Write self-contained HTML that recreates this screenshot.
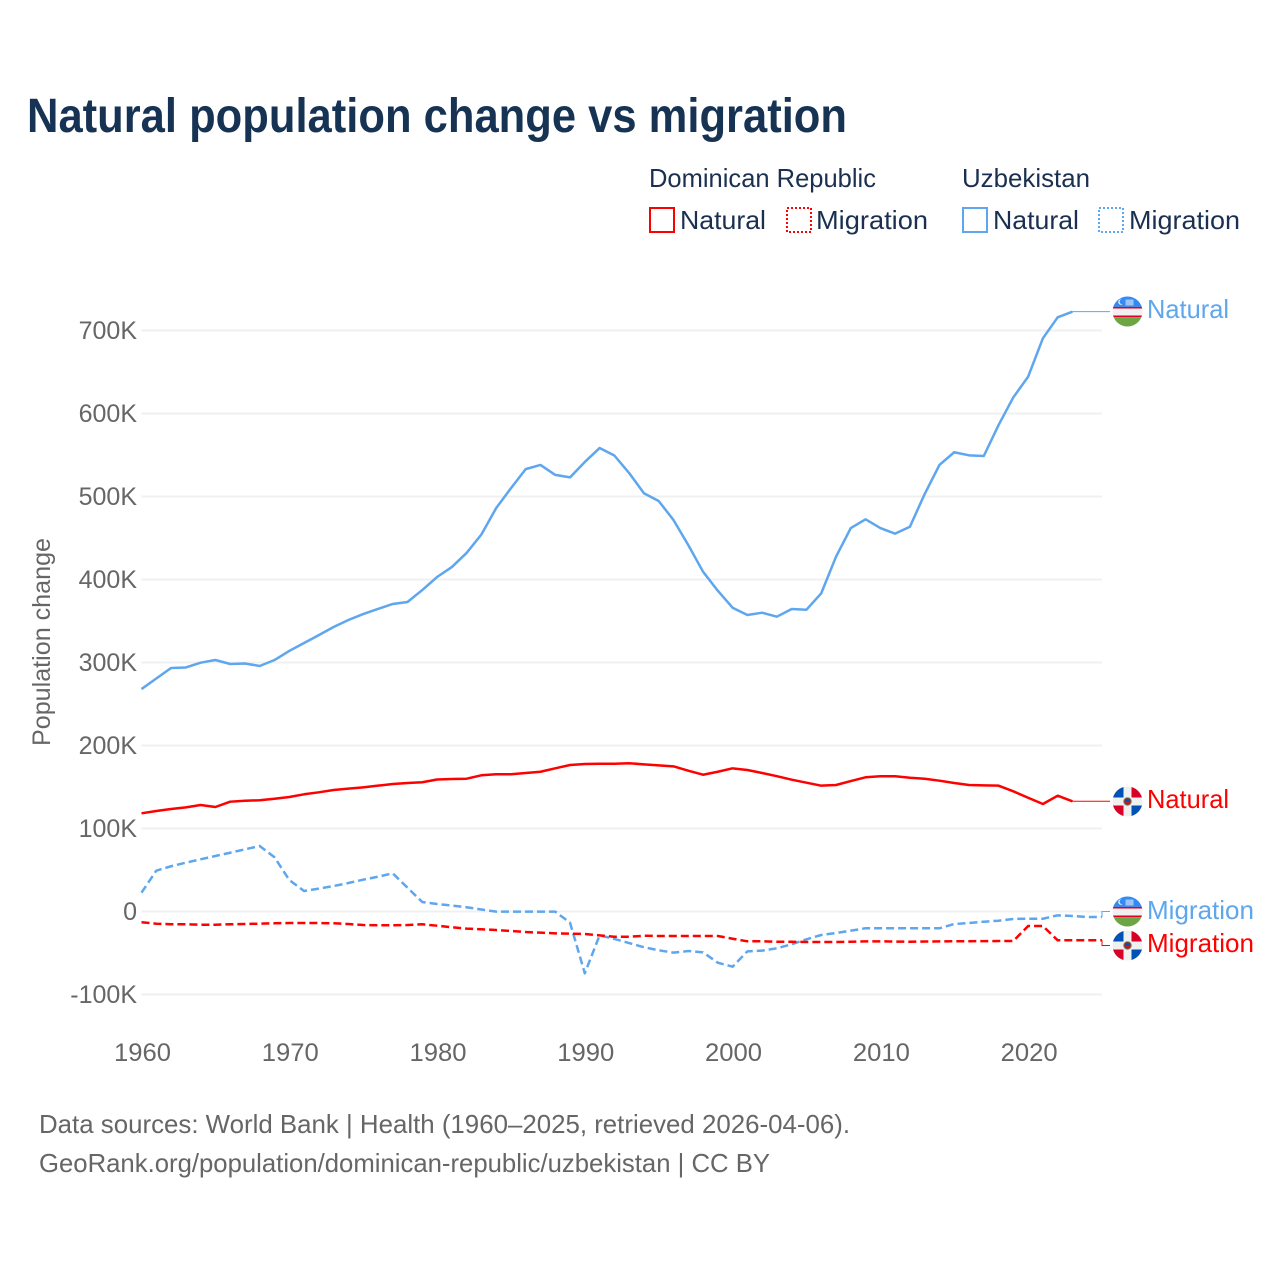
<!DOCTYPE html>
<html lang="en">
<head>
<meta charset="utf-8">
<title>Natural population change vs migration</title>
<style>
html,body{margin:0;padding:0;background:#fff;}
svg{display:block;font-family:"Liberation Sans",sans-serif;}
</style>
</head>
<body>
<svg id="chart" xmlns="http://www.w3.org/2000/svg" width="1280" height="1280" viewBox="0 0 1280 1280">
  <defs>
    <clipPath id="flag-clip"><circle cx="0" cy="0" r="15"></circle></clipPath>
    <g id="flag-uz" clip-path="url(#flag-clip)">
      <rect x="-15" y="-15" width="30" height="11" fill="#338af3"></rect>
      <rect x="-15" y="-4.6" width="30" height="12" fill="#f0f0f0"></rect>
      <rect x="-15" y="-4.6" width="30" height="1.6" fill="#d80027"></rect>
      <rect x="-15" y="4" width="30" height="1.6" fill="#d80027"></rect>
      <rect x="-15" y="5.6" width="30" height="10" fill="#6da544"></rect>
      <circle cx="-6.5" cy="-9.5" r="2.8" fill="#f0f0f0"></circle>
      <circle cx="-5.3" cy="-9.8" r="2.6" fill="#338af3"></circle>
      <rect x="-2" y="-12" width="8" height="6" fill="#9cc4f7"></rect>
    </g>
    <g id="flag-do" clip-path="url(#flag-clip)">
      <rect x="-15" y="-15" width="30" height="30" fill="#f0f0f0"></rect>
      <rect x="-15" y="-15" width="11" height="11" fill="#0052b4"></rect>
      <rect x="4" y="-15" width="11" height="11" fill="#d80027"></rect>
      <rect x="-15" y="4" width="11" height="11" fill="#d80027"></rect>
      <rect x="4" y="4" width="11" height="11" fill="#0052b4"></rect>
      <circle cx="0" cy="0" r="4.2" fill="#5c8a4a"></circle>
      <circle cx="0" cy="0" r="3.2" fill="#c8102e"></circle>
      <rect x="-2.6" y="-2.6" width="5.2" height="2.6" fill="#0052b4"></rect>
    </g>
  </defs>

  <rect x="0" y="0" width="1280" height="1280" fill="#ffffff"></rect>

  <text x="27" y="132" font-size="48" font-weight="700" fill="#163354" textLength="820" lengthAdjust="spacingAndGlyphs">Natural population change vs migration</text>

  <g font-size="26" fill="#1b3050">
    <text x="649" y="187" textLength="227" lengthAdjust="spacingAndGlyphs">Dominican Republic</text>
    <text x="962" y="187" textLength="128" lengthAdjust="spacingAndGlyphs">Uzbekistan</text>

    <g>
      <rect x="650" y="208" width="24" height="24" fill="none" stroke="#ff0000" stroke-width="2"></rect>
      <text x="680" y="229" textLength="86" lengthAdjust="spacingAndGlyphs">Natural</text>
    </g>
    <g>
      <rect x="787" y="208" width="24" height="24" fill="none" stroke="#ff0000" stroke-width="2" stroke-dasharray="2 2"></rect>
      <text x="816" y="229" textLength="112" lengthAdjust="spacingAndGlyphs">Migration</text>
    </g>
    <g>
      <rect x="963" y="208" width="24" height="24" fill="none" stroke="#5ea6ee" stroke-width="2"></rect>
      <text x="993" y="229" textLength="86" lengthAdjust="spacingAndGlyphs">Natural</text>
    </g>
    <g>
      <rect x="1099" y="208" width="24" height="24" fill="none" stroke="#5ea6ee" stroke-width="2" stroke-dasharray="2 2"></rect>
      <text x="1129" y="229" textLength="111" lengthAdjust="spacingAndGlyphs">Migration</text>
    </g>
  </g>

  <text transform="translate(50,746) rotate(-90)" font-size="25" fill="#666666" textLength="208" lengthAdjust="spacingAndGlyphs">Population change</text>

  <g id="grid"></g>
  <g id="y-ticks"></g>
  <g id="x-ticks"></g>
  <g id="series"></g>

  <g font-size="26">
    <use href="#flag-uz" x="1127.5" y="311.5"></use>
    <text x="1147" y="318" fill="#5ea6ee" textLength="82" lengthAdjust="spacingAndGlyphs">Natural</text>
    <use href="#flag-do" x="1127.5" y="801.5"></use>
    <text x="1147" y="808" fill="#ff0000" textLength="82" lengthAdjust="spacingAndGlyphs">Natural</text>
    <use href="#flag-uz" x="1127.5" y="911.5"></use>
    <text x="1147" y="919" fill="#5ea6ee" textLength="107" lengthAdjust="spacingAndGlyphs">Migration</text>
    <use href="#flag-do" x="1127.5" y="945.5"></use>
    <text x="1147" y="952" fill="#ff0000" textLength="107" lengthAdjust="spacingAndGlyphs">Migration</text>
  </g>

  <g font-size="26" fill="#666666">
    <text x="39" y="1133" textLength="811" lengthAdjust="spacingAndGlyphs">Data sources: World Bank | Health (1960–2025, retrieved 2026-04-06).</text>
    <text x="39" y="1172" textLength="731" lengthAdjust="spacingAndGlyphs">GeoRank.org/population/dominican-republic/uzbekistan | CC BY</text>
  </g>
</svg>

<script>
const firstYear = 1960;
const yTickValues = [-100, 0, 100, 200, 300, 400, 500, 600, 700];
const yTickLabels = ["-100K", "0", "100K", "200K", "300K", "400K", "500K", "600K", "700K"];
const xTickYears = [1960, 1970, 1980, 1990, 2000, 2010, 2020];

const uzbekistanNatural = [268,280.7,293.4,294,299.8,303,298.2,298.8,295.8,303,
  313.9,323.5,333,342.8,351.2,358.4,364.5,370.5,372.9,387.3,
  403,415,432,454.2,486,510,533,538,526,523,
  541.6,558.4,549.4,528.3,503.9,494.6,471.7,441.6,409.4,386.5,
  366,357.2,360,355.2,364.5,363.6,383.4,427.5,462,472.5,
  462,455.2,463.6,503,538,553.3,549.6,548.8,586.1,619.5,
  644.3,690.6,715.9,722.7];
const dominicanNatural = [118.3,121.1,123.5,125.5,128.3,125.9,132.3,133.5,134,135.9,
  138,141.2,143.6,146.4,148,149.6,151.6,153.6,154.8,155.7,
  159,159.6,160,164.1,165.3,165.3,166.9,168.4,172.5,176.5,
  177.7,178,178,178.6,177.3,176.1,174.9,169.6,164.8,168.4,
  172.5,170.5,166.9,163,158.8,155.2,151.6,152.4,157.2,161.7,
  162.9,162.9,161.2,160,157.6,154.8,152.4,152,151.6,144.8,
  137.1,129.5,139.5,132.8];
const uzbekistanMigration = [22.7,49.2,54.5,58.8,62.9,66.9,70.8,74.9,78.9,65.3,
  38,24.7,27.5,30.7,34.3,38.3,41.9,46,28.7,11.4,
  9,7.2,5.1,2.4,-0.2,-0.2,-0.2,-0.2,-0.2,-13.5,
  -74.5,-28.7,-33.1,-38,-43.1,-46.7,-49.6,-47.6,-49.2,-61.7,
  -66.5,-48,-47.2,-44.3,-39.5,-33.5,-28.3,-25.9,-23.1,-20.2,
  -20.2,-20.2,-20.2,-20.2,-20.2,-15.1,-13.9,-12.3,-11.1,-9,
  -8.7,-8.7,-4.6,-5.4,-6.6,-6.6];
const dominicanMigration = [-13,-14.7,-15.4,-15.4,-15.9,-15.9,-15.4,-15.1,-14.7,-14.2,
  -13.9,-13.9,-13.9,-14.2,-15.1,-16.3,-16.6,-16.6,-16.3,-15.4,
  -17.1,-19,-20.7,-21.4,-22.3,-23.5,-24.7,-25.5,-26.3,-26.7,
  -27.1,-28.7,-30.4,-30.4,-29.2,-29.5,-29.5,-29.5,-29.5,-29.5,
  -32.8,-35.9,-35.9,-36.4,-36.4,-36.8,-36.8,-36.8,-36.4,-36,
  -36,-36.2,-36.4,-36.2,-36,-35.9,-35.8,-35.7,-35.6,-35.5,
  -17.5,-17.5,-34.7,-34.7,-34.7,-34.7];

const SVG_NS = "http://www.w3.org/2000/svg";
const plotLeft = 141.5, plotRight = 1102, leaderEnd = 1110;
function xScale(year) { return plotLeft + (year - firstYear) * (plotRight - plotLeft) / 65; }
function yScale(thousands) { return 911.5 - thousands * 0.83; }

function make(tag, attrs, parent) {
  const el = document.createElementNS(SVG_NS, tag);
  for (const k in attrs) el.setAttribute(k, attrs[k]);
  parent.appendChild(el);
  return el;
}

const gridGroup = document.getElementById("grid");
const yTickGroup = document.getElementById("y-ticks");
const xTickGroup = document.getElementById("x-ticks");
const seriesGroup = document.getElementById("series");

yTickValues.forEach(function (v, i) {
  const line = make("line", { x1: plotLeft, x2: plotRight, y1: yScale(v), y2: yScale(v), stroke: "#f0f0f0", "stroke-width": 2 }, gridGroup);
  
  
  const label = make("text", { x: 137, y: yScale(v) + 8.5, "text-anchor": "end", "font-size": 25, fill: "#666666" }, yTickGroup);
  label.textContent = yTickLabels[i];
  
  
});

xTickYears.forEach(function (year) {
  const label = make("text", { x: xScale(year) + 1, y: 1061, "text-anchor": "middle", "font-size": 25, fill: "#666666", textLength: 57, lengthAdjust: "spacingAndGlyphs" }, xTickGroup);
  label.textContent = String(year);
  
  
});

function drawSeries(values, color, dash, labelY, name) {
  const pts = values.map(function (v, i) { return xScale(firstYear + i).toFixed(2) + "," + yScale(v).toFixed(2); });
  const path = make("path", { d: "M" + pts.join("L"), fill: "none", stroke: color, "stroke-width": 2.5, "stroke-linejoin": "round" }, seriesGroup);
  if (dash) path.setAttribute("stroke-dasharray", dash);
  
  
  const lastX = xScale(firstYear + values.length - 1);
  const lastY = yScale(values[values.length - 1]);
  const leader = make("path", { d: "M" + lastX + "," + lastY + "L" + plotRight + "," + lastY + "L" + plotRight + "," + labelY + "L" + leaderEnd + "," + labelY, fill: "none", stroke: color, "stroke-width": 1 }, seriesGroup);
  
  
}

drawSeries(uzbekistanMigration, "#5ea6ee", "8 4", 911.5, "uzbekistan-migration");
drawSeries(dominicanMigration, "#ff0000", "8 4", 945.5, "dominican-republic-migration");
drawSeries(uzbekistanNatural, "#5ea6ee", "", yScale(uzbekistanNatural[uzbekistanNatural.length - 1]), "uzbekistan-natural");
drawSeries(dominicanNatural, "#ff0000", "", yScale(dominicanNatural[dominicanNatural.length - 1]), "dominican-republic-natural");
</script>
</body>
</html>
